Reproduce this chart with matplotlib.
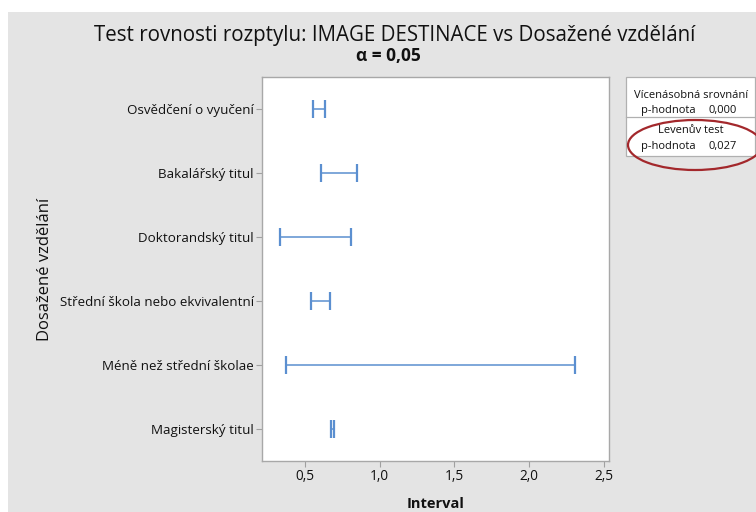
import matplotlib
matplotlib.use("Agg")
import matplotlib.pyplot as plt
from matplotlib.patches import Rectangle, Ellipse

# ---- data ----
categories = ["Osvědčení o vyučení", "Bakalářský titul", "Doktorandský titul",
              "Střední škola nebo ekvivalentní", "Méně než střední školae",
              "Magisterský titul"]
lower = [0.551, 0.605, 0.331, 0.542, 0.373, 0.675]
upper = [0.635, 0.851, 0.805, 0.667, 2.305, 0.693]
xticks = [0.5, 1.0, 1.5, 2.0, 2.5]
xtick_labels = ["0,5", "1,0", "1,5", "2,0", "2,5"]
title = "Test rovnosti rozptylu: IMAGE DESTINACE vs Dosažené vzdělání"
subtitle = "α = 0,05"
mc_label, mc_p = "Vícenásobná srovnání", "0,000"
lev_label, lev_p = "Levenův test", "0,027"

plt.rcParams['font.family'] = ['Open Sans', 'DejaVu Sans']
W, H = 756, 512
fig = plt.figure(figsize=(W / 100, H / 100), dpi=100)
fig.patch.set_facecolor("white")

def fx(x):
    return x / W

def fy(y):
    return 1 - y / H

TXT = "#111111"

# gray background
fig.add_artist(Rectangle((fx(8), 0), 1 - fx(8), fy(12), transform=fig.transFigure,
                         facecolor="#e4e4e4", edgecolor="none", zorder=0))

ax = fig.add_axes([fx(262), fy(461), fx(609) - fx(262), (461 - 77) / H])
ax.set_facecolor("white")
ypos = list(range(len(categories)))
centers = [(l + u) / 2 for l, u in zip(lower, upper)]
xerr = [[c - l for c, l in zip(centers, lower)], [u - c for c, u in zip(centers, upper)]]
ax.errorbar(centers, ypos, xerr=xerr, fmt="none", ecolor="#5b8fd0", elinewidth=1.1,
            capsize=6.5, capthick=1.6)
ax.set_ylim(len(categories) - 0.5, -0.5)
ax.set_xlim(0.213, 2.533)
ax.set_yticks(ypos)
ax.set_yticklabels(categories, fontsize=9.6, color=TXT)
ax.set_xticks(xticks)
ax.set_xticklabels(xtick_labels, fontsize=9.8, color=TXT)
ax.tick_params(axis="both", direction="out", length=4, width=0.8, color="#a0a0a0", pad=2)
for s in ax.spines.values():
    s.set_color("#a8a8a8")
    s.set_linewidth(1.0)
ax.set_xlabel("Interval", fontsize=10.5, fontweight="bold", color=TXT, labelpad=9)
ax.set_ylabel("Dosažené vzdělání", fontsize=12, color=TXT, labelpad=4.5)

fig.text(fx(395), fy(36), title, fontsize=14.8, ha="center", va="center", color=TXT)
fig.text(fx(388), fy(56), subtitle, fontsize=12.5, fontweight="bold", ha="center",
         va="center", color=TXT)

# legend box
fig.add_artist(Rectangle((fx(626), fy(156)), fx(755) - fx(626), (156 - 77) / H,
                         transform=fig.transFigure, facecolor="white",
                         edgecolor="#b0b0b0", linewidth=0.9, zorder=2))
fig.add_artist(plt.Line2D([fx(626), fx(755)], [fy(117), fy(117)], transform=fig.transFigure,
                          color="#b0b0b0", linewidth=0.9, zorder=3))
fs = 8.0
fig.text(fx(691), fy(95), mc_label, fontsize=fs, ha="center", va="center", color=TXT, zorder=4)
fig.text(fx(641), fy(110.5), "p-hodnota", fontsize=fs, ha="left", va="center", color=TXT, zorder=4)
fig.text(fx(737), fy(110.5), mc_p, fontsize=fs, ha="right", va="center", color=TXT, zorder=4)
fig.text(fx(691), fy(130.5), lev_label, fontsize=fs, ha="center", va="center", color=TXT, zorder=4)
fig.text(fx(641), fy(146), "p-hodnota", fontsize=fs, ha="left", va="center", color=TXT, zorder=4)
fig.text(fx(737), fy(146), lev_p, fontsize=fs, ha="right", va="center", color=TXT, zorder=4)

fig.add_artist(Ellipse((fx(695), fy(145)), 134 / W, 50 / H, transform=fig.transFigure,
                       facecolor="none", edgecolor="#a3282c", linewidth=1.6, zorder=5))

fig.savefig("out.png", dpi=100)
